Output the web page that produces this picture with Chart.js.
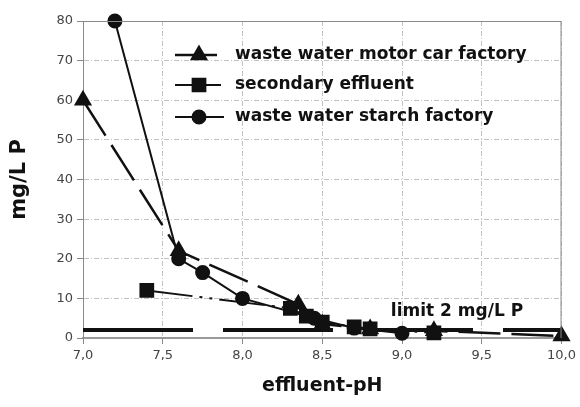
<!DOCTYPE html>
<html>
<head>
<meta charset="utf-8">
<script src="https://cdn.jsdelivr.net/npm/chart.js@4/dist/chart.umd.min.js"></script>
<style>
  html, body { margin: 0; padding: 0; background: #fff; }
  #wrap { width: 580px; height: 407px; position: relative; }
</style>
</head>
<body>
<div id="wrap"><canvas id="grafico" width="580" height="407"></canvas></div>
<script>
// Dados
const phMotor = [7.0, 7.6, 8.35, 8.5, 8.8, 9.2, 10.0];
const pMotor = [60, 22, 8.5, 3.5, 2.3, 1.8, 0.5];
const phSecundario = [7.4, 8.3, 8.4, 8.5, 8.7, 8.8, 9.2];
const pSecundario = [12, 7.5, 5.5, 4, 2.8, 2.3, 1.3];
const phAmido = [7.2, 7.6, 7.75, 8.0, 8.45, 8.7, 9.0];
const pAmido = [80, 20, 16.5, 10, 5, 2.5, 1.2];
const limite = 2;
const rotulos = ['waste water motor car factory', 'secondary effluent', 'waste water starch factory'];
const textoLimite = 'limit 2 mg/L P';
const tituloX = 'effluent-pH';
const tituloY = 'mg/L P';

const pontos = (xs, ys) => xs.map((x, i) => ({ x: x, y: ys[i] }));

// Legenda, moldura e títulos desenhados à mão
const extras = {
  id: 'extras',
  afterDraw(chart) {
    const ctx = chart.ctx;
    const a = chart.chartArea;
    const sx = chart.scales.x, sy = chart.scales.y;

    ctx.save();
    ctx.strokeStyle = '#8a8a8a';
    ctx.lineWidth = 1;
    ctx.beginPath();
    ctx.moveTo(a.left, a.top + 0.5);
    ctx.lineTo(a.right - 0.5, a.top + 0.5);
    ctx.lineTo(a.right - 0.5, a.bottom);
    ctx.stroke();

    // texto do limite
    ctx.fillStyle = '#111';
    ctx.font = 'bold 17px "DejaVu Sans"';
    ctx.textAlign = 'left';
    ctx.textBaseline = 'middle';
    ctx.fillText(textoLimite, sx.getPixelForValue(8.93), sy.getPixelForValue(6.6));

    // legenda
    const linhas = [55, 85, 117];
    chart.data.datasets.slice(0, 3).forEach((ds, i) => {
      const y = linhas[i];
      ctx.strokeStyle = '#111';
      ctx.lineWidth = ds.borderWidth;
      ctx.setLineDash(ds.borderDash || []);
      ctx.beginPath();
      ctx.moveTo(175, y);
      ctx.lineTo(224, y);
      ctx.stroke();
      ctx.setLineDash([]);
      Chart.helpers.drawPoint(ctx, {
        pointStyle: ds.pointStyle, radius: ds.pointRadius, rotation: 0, borderWidth: 1
      }, 199, y);
      ctx.fillStyle = '#111';
      ctx.fill();
      ctx.fillText(rotulos[i], 235, y);
    });

    // títulos dos eixos
    ctx.textAlign = 'center';
    ctx.font = 'bold 19px "DejaVu Sans"';
    ctx.fillText(tituloX, (a.left + a.right) / 2, 386);
    ctx.translate(20, (a.top + a.bottom) / 2);
    ctx.rotate(-Math.PI / 2);
    ctx.font = 'bold 21px "DejaVu Sans"';
    ctx.fillText(tituloY, 0, 0);
    ctx.restore();
  }
};

new Chart(document.getElementById('grafico'), {
  type: 'scatter',
  data: {
    datasets: [
      {
        label: rotulos[0],
        data: pontos(phMotor, pMotor),
        showLine: true,
        borderColor: '#111',
        backgroundColor: '#111',
        borderWidth: 2.5,
        borderDash: [42, 11],
        pointStyle: 'triangle',
        pointRadius: 8,
        clip: false
      },
      {
        label: rotulos[1],
        data: pontos(phSecundario, pSecundario),
        showLine: true,
        borderColor: '#111',
        backgroundColor: '#111',
        borderWidth: 2,
        borderDash: [46, 7, 3, 7, 3, 7],
        pointStyle: 'rect',
        pointRadius: 9,
        clip: false
      },
      {
        label: rotulos[2],
        data: pontos(phAmido, pAmido),
        showLine: true,
        borderColor: '#111',
        backgroundColor: '#111',
        borderWidth: 2,
        pointStyle: 'circle',
        pointRadius: 6.5,
        clip: false
      },
      {
        label: 'limit',
        data: [{ x: 7.0, y: limite }, { x: 10.0, y: limite }],
        showLine: true,
        borderColor: '#111',
        borderWidth: 4,
        borderDash: [110, 30],
        pointRadius: 0
      }
    ]
  },
  options: {
    responsive: false,
    animation: false,
    layout: { padding: { top: 21, right: 17, left: 0, bottom: 0 } },
    plugins: { legend: { display: false }, tooltip: { enabled: false } },
    scales: {
      x: {
        type: 'linear',
        min: 7, max: 10,
        afterFit: (s) => { s.height = 69; },
        ticks: {
          stepSize: 0.5,
          color: '#444',
          padding: 4,
          maxRotation: 0,
          font: { family: 'DejaVu Sans', size: 13 },
          callback: (v) => v.toFixed(1).replace('.', ',')
        },
        grid: { color: '#c2c2c2', tickColor: '#8a8a8a', tickLength: 6 },
        border: { color: '#9a9a9a', width: 2, dash: [5, 2, 1, 2] }
      },
      y: {
        min: 0, max: 80,
        afterFit: (s) => { s.width = 83; },
        ticks: {
          stepSize: 10,
          color: '#444',
          padding: 4,
          font: { family: 'DejaVu Sans', size: 13 }
        },
        grid: { color: '#c2c2c2', tickColor: '#8a8a8a', tickLength: 6 },
        border: { color: '#8a8a8a', width: 1, dash: [5, 2, 1, 2] }
      }
    }
  },
  plugins: [extras]
});
</script>
</body>
</html>
